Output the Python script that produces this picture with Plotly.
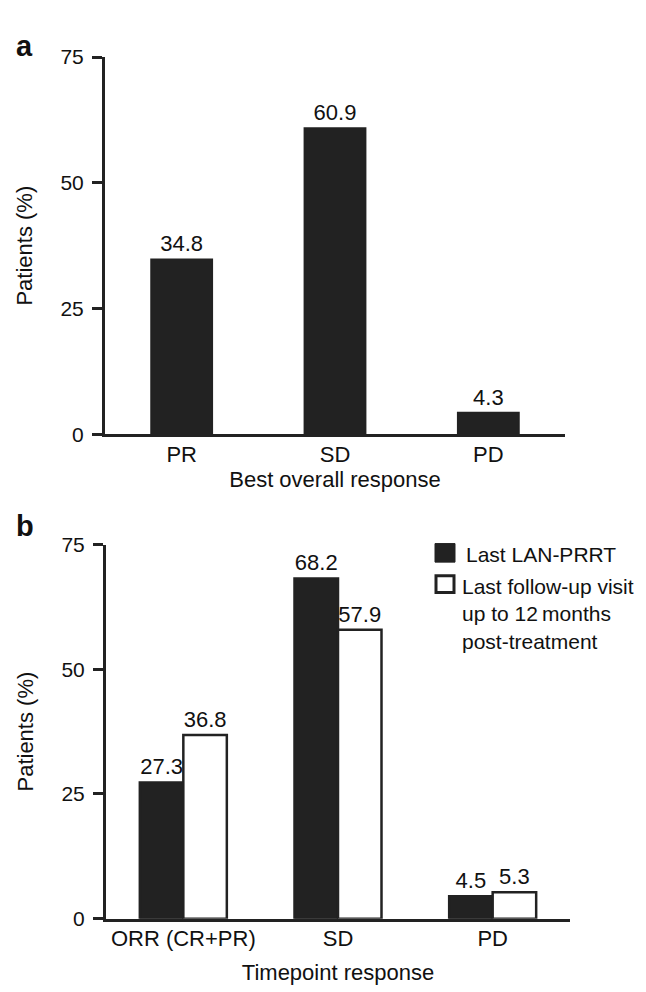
import plotly.graph_objects as go

# ---- data ----
cats_a = ["PR", "SD", "PD"]
vals_a = [34.8, 60.9, 4.3]

cats_b = ["ORR (CR+PR)", "SD", "PD"]
last_lan_prrt = [27.3, 68.2, 4.5]
last_followup = [36.8, 57.9, 5.3]

y_ticks = [0, 25, 50, 75]
series_names = ["Last LAN-PRRT", "Last follow-up visit<br>up to 12\u2009months<br>post-treatment"]

INK = "#222222"
FONT = "Liberation Sans, Arial, sans-serif"
W, H = 646, 992

fig = go.Figure()

fig.add_trace(go.Bar(
    x=cats_a, y=vals_a, xaxis="x", yaxis="y", width=0.4,
    marker=dict(color=INK, line=dict(color=INK, width=1.5)),
    text=[f"{v:.1f}" for v in vals_a], textposition="outside",
    textfont=dict(size=22, color="#111111", family=FONT),
    cliponaxis=False, showlegend=False,
))
fig.add_trace(go.Bar(
    x=cats_b, y=last_lan_prrt, xaxis="x2", yaxis="y2", name="Last LAN-PRRT",
    marker=dict(color=INK, line=dict(color=INK, width=2.5)),
    text=[f"{v:.1f}" for v in last_lan_prrt], textposition="outside",
    textfont=dict(size=22, color="#111111", family=FONT),
    cliponaxis=False, showlegend=False,
))
fig.add_trace(go.Bar(
    x=cats_b, y=last_followup, xaxis="x2", yaxis="y2", name="Last follow-up visit",
    marker=dict(color="white", line=dict(color=INK, width=2.5)),
    text=[f"{v:.1f}" for v in last_followup], textposition="outside",
    textfont=dict(size=22, color="#111111", family=FONT),
    cliponaxis=False, showlegend=False,
))

def px_x(p):
    return p / W

def px_y(p):
    return 1 - p / H

xcommon = dict(range=[-0.5, 2.5], showline=True, linewidth=3, linecolor=INK,
               ticks="", ticklabelstandoff=-2,
               showgrid=False, zeroline=False, type="category",
               tickfont=dict(size=22, color="#111111", family=FONT),
               title_font=dict(size=22, color="#111111", family=FONT))
ycommon = dict(range=[0, 75], tickvals=y_ticks, showline=True, linewidth=3, linecolor=INK,
               ticks="outside", ticklen=10, tickwidth=3, tickcolor=INK,
               showgrid=False, zeroline=False, ticklabelstandoff=4,
               tickfont=dict(size=21, color="#111111", family=FONT),
               title_font=dict(size=22, color="#111111", family=FONT))

fig.update_layout(
    width=W, height=H,
    margin=dict(l=0, r=0, t=0, b=0),
    paper_bgcolor="white", plot_bgcolor="white",
    barmode="group", bargap=0.4375, bargroupgap=0,
    font=dict(family=FONT, color="#111111"),
    xaxis=dict(domain=[px_x(97), px_x(557)], anchor="y",
               title=dict(text="Best overall response", standoff=5), **xcommon),
    yaxis=dict(domain=[px_y(424), px_y(38)], anchor="x",
               title=dict(text="Patients (%)", standoff=22), **ycommon),
    xaxis2=dict(domain=[px_x(98), px_x(562)], anchor="y2",
                title=dict(text="Timepoint response", standoff=15), **xcommon),
    yaxis2=dict(domain=[px_y(920), px_y(537)], anchor="x2",
                title=dict(text="Patients (%)", standoff=22), **ycommon),
)

# legend for panel b
fig.add_shape(type="rect", xref="paper", yref="paper",
              x0=px_x(427), x1=px_x(447), y0=px_y(555), y1=px_y(536),
              fillcolor=INK, line=dict(color=INK, width=1))
fig.add_shape(type="rect", xref="paper", yref="paper",
              x0=px_x(428), x1=px_x(446), y0=px_y(586), y1=px_y(569),
              fillcolor="white", line=dict(color=INK, width=3))
fig.add_annotation(text=series_names[0], xref="paper", yref="paper",
                   x=px_x(456), y=px_y(547), xanchor="left", yanchor="middle",
                   showarrow=False, font=dict(size=21, family=FONT, color="#111111"))
fig.add_annotation(text=series_names[1], xref="paper", yref="paper",
                   x=px_x(452), y=px_y(566), xanchor="left", yanchor="top", align="left",
                   showarrow=False, font=dict(size=21, family=FONT, color="#111111"))

# panel letters
fig.add_annotation(text="<b>a</b>", xref="paper", yref="paper", x=px_x(6), y=px_y(8),
                   xanchor="left", yanchor="top", showarrow=False,
                   font=dict(size=29, family=FONT, color="#111111"))
fig.add_annotation(text="<b>b</b>", xref="paper", yref="paper", x=px_x(6), y=px_y(500),
                   xanchor="left", yanchor="top", showarrow=False,
                   font=dict(size=29, family=FONT, color="#111111"))

fig.write_html("out.html")
